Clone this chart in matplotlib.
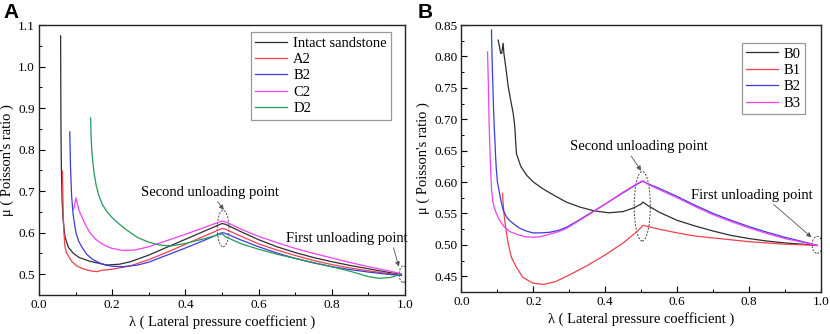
import numpy as np
import matplotlib
matplotlib.use("Agg")
import matplotlib.pyplot as plt
from matplotlib.patches import Ellipse
from matplotlib.ticker import MultipleLocator, FormatStrFormatter

plt.rcParams["font.family"] = ["Liberation Serif", "DejaVu Serif"]
plt.rcParams["font.size"] = 9

# ---- panel A : different joint sets, lambda vs Poisson's ratio ----
intact_x = [0.059, 0.0595, 0.060, 0.061, 0.063, 0.066, 0.071, 0.080, 0.094, 0.110, 0.139, 0.185,
            0.22, 0.25, 0.30, 0.35, 0.40, 0.45, 0.50, 0.51, 0.55, 0.60, 0.65, 0.70, 0.75, 0.80,
            0.85, 0.90, 0.95, 0.99]
intact_y = [1.074, 0.95, 0.85, 0.76, 0.68, 0.63, 0.59, 0.565, 0.55, 0.54, 0.531, 0.522,
            0.524, 0.530, 0.546, 0.565, 0.584, 0.603, 0.622, 0.620, 0.603, 0.583, 0.566, 0.552,
            0.540, 0.530, 0.521, 0.513, 0.505, 0.499]

a2_x = [0.064, 0.065, 0.066, 0.068, 0.071, 0.075, 0.080, 0.090, 0.103, 0.12, 0.14, 0.158, 0.17,
        0.20, 0.25, 0.30, 0.35, 0.40, 0.45, 0.50, 0.51, 0.55, 0.60, 0.65, 0.70, 0.75, 0.80, 0.85,
        0.90, 0.95, 0.99]
a2_y = [0.748, 0.70, 0.65, 0.60, 0.565, 0.552, 0.544, 0.53, 0.52, 0.513, 0.508, 0.506, 0.509,
        0.512, 0.520, 0.535, 0.553, 0.572, 0.591, 0.610, 0.608, 0.592, 0.573, 0.558, 0.545, 0.533,
        0.523, 0.515, 0.508, 0.502, 0.498]

b2a_x = [0.084, 0.086, 0.089, 0.093, 0.098, 0.101, 0.108, 0.118, 0.13, 0.146, 0.165, 0.182, 0.20,
         0.23, 0.27, 0.30, 0.35, 0.40, 0.45, 0.50, 0.51, 0.55, 0.60, 0.65, 0.70, 0.75, 0.80, 0.85,
         0.90, 0.95, 0.99]
b2a_y = [0.843, 0.76, 0.69, 0.645, 0.615, 0.60, 0.58, 0.564, 0.548, 0.536, 0.527, 0.522, 0.519,
         0.518, 0.522, 0.529, 0.546, 0.563, 0.581, 0.600, 0.598, 0.583, 0.566, 0.551, 0.538, 0.527,
         0.518, 0.511, 0.505, 0.500, 0.497]

c2_x = [0.094, 0.097, 0.101, 0.105, 0.110, 0.117, 0.128, 0.139, 0.155, 0.170, 0.185, 0.20, 0.23,
        0.26, 0.30, 0.35, 0.40, 0.45, 0.50, 0.51, 0.55, 0.60, 0.65, 0.70, 0.75, 0.80, 0.85, 0.90,
        0.95, 0.99]
c2_y = [0.655, 0.665, 0.684, 0.668, 0.652, 0.638, 0.617, 0.60, 0.584, 0.574, 0.567, 0.562, 0.557,
        0.558, 0.566, 0.581, 0.596, 0.612, 0.628, 0.626, 0.609, 0.591, 0.576, 0.562, 0.550, 0.539,
        0.528, 0.518, 0.509, 0.501]

d2_x = [0.141, 0.142, 0.144, 0.147, 0.151, 0.156, 0.163, 0.173, 0.186, 0.20, 0.22, 0.24, 0.27,
        0.30, 0.33, 0.36, 0.40, 0.45, 0.49, 0.50, 0.51, 0.55, 0.60, 0.65, 0.70, 0.75, 0.80, 0.85,
        0.90, 0.93, 0.96, 0.99]
d2_y = [0.876, 0.84, 0.80, 0.77, 0.74, 0.715, 0.69, 0.668, 0.65, 0.636, 0.62, 0.606, 0.588,
        0.577, 0.570, 0.568, 0.574, 0.585, 0.595, 0.597, 0.590, 0.574, 0.560, 0.548, 0.538, 0.528,
        0.518, 0.507, 0.494, 0.490, 0.492, 0.500]

# ---- panel B : B-series specimens ----
b0_x = [0.102, 0.106, 0.109, 0.112, 0.116, 0.118, 0.124, 0.130, 0.137, 0.144, 0.148, 0.153,
        0.165, 0.181, 0.20, 0.227, 0.26, 0.292, 0.33, 0.37, 0.41, 0.45, 0.48, 0.50, 0.505, 0.52,
        0.55, 0.60, 0.65, 0.70, 0.75, 0.80, 0.85, 0.90, 0.95, 0.99]
b0_y = [0.826, 0.815, 0.805, 0.805, 0.821, 0.805, 0.78, 0.752, 0.73, 0.709, 0.69, 0.645,
        0.625, 0.611, 0.600, 0.589, 0.578, 0.568, 0.560, 0.554, 0.551, 0.553, 0.559, 0.565, 0.568,
        0.562, 0.552, 0.539, 0.530, 0.522, 0.515, 0.510, 0.506, 0.503, 0.501, 0.499]

b1_x = [0.114, 0.116, 0.120, 0.125, 0.130, 0.139, 0.153, 0.171, 0.199, 0.227, 0.26, 0.30, 0.35,
        0.40, 0.45, 0.49, 0.50, 0.505, 0.55, 0.60, 0.65, 0.70, 0.75, 0.80, 0.85, 0.90, 0.95, 0.99]
b1_y = [0.582, 0.565, 0.54, 0.52, 0.502, 0.48, 0.464, 0.448, 0.439, 0.437, 0.441, 0.452, 0.467,
        0.484, 0.503, 0.522, 0.528, 0.531, 0.525, 0.519, 0.514, 0.511, 0.508, 0.505, 0.503, 0.501,
        0.500, 0.499]

b2_x = [0.0835, 0.085, 0.087, 0.089, 0.091, 0.093, 0.095, 0.097, 0.10, 0.105, 0.11, 0.116, 0.125,
        0.135, 0.144, 0.16, 0.18, 0.199, 0.22, 0.246, 0.27, 0.292, 0.32, 0.357, 0.40, 0.45, 0.49,
        0.50, 0.505, 0.52, 0.55, 0.60, 0.65, 0.70, 0.75, 0.80, 0.85, 0.90, 0.95, 0.99]
b2_y = [0.842, 0.80, 0.76, 0.72, 0.69, 0.666, 0.64, 0.62, 0.60, 0.585, 0.57, 0.555, 0.545,
        0.538, 0.534, 0.527, 0.522, 0.519, 0.519, 0.520, 0.523, 0.528, 0.537, 0.550, 0.565, 0.583,
        0.597, 0.600, 0.601, 0.597, 0.590, 0.577, 0.563, 0.550, 0.539, 0.529, 0.520, 0.512, 0.505,
        0.499]

b3_x = [0.0725, 0.075, 0.077, 0.079, 0.081, 0.0835, 0.087, 0.091, 0.097, 0.105, 0.12, 0.135,
        0.153, 0.175, 0.199, 0.22, 0.246, 0.27, 0.292, 0.32, 0.357, 0.40, 0.45, 0.49, 0.50, 0.505,
        0.52, 0.55, 0.60, 0.65, 0.70, 0.75, 0.80, 0.85, 0.90, 0.95, 0.99]
b3_y = [0.807, 0.75, 0.69, 0.655, 0.62, 0.59, 0.57, 0.56, 0.55, 0.54, 0.528, 0.521, 0.517,
        0.513, 0.512, 0.513, 0.517, 0.521, 0.526, 0.536, 0.549, 0.565, 0.584, 0.598, 0.601, 0.602,
        0.596, 0.588, 0.575, 0.561, 0.548, 0.537, 0.527, 0.518, 0.510, 0.504, 0.499]

C_BLACK = "#2e2e2e"
C_RED = "#f0404e"
C_BLUE = "#3c3cdc"
C_PINK = "#f040f0"
C_GREEN = "#239a5a"

fig = plt.figure(figsize=(8.3, 3.34), dpi=100)
axA = fig.add_axes([0.047, 0.117, 0.441, 0.808])
axB = fig.add_axes([0.556, 0.126, 0.433, 0.799])

lw = 0.9
axA.plot(intact_x, intact_y, color=C_BLACK, lw=lw, label="Intact sandstone")
axA.plot(a2_x, a2_y, color=C_RED, lw=lw, label="A2")
axA.plot(b2a_x, b2a_y, color=C_BLUE, lw=lw, label="B2")
axA.plot(c2_x, c2_y, color=C_PINK, lw=lw, label="C2")
axA.plot(d2_x, d2_y, color=C_GREEN, lw=lw, label="D2")

axB.plot(b0_x, b0_y, color=C_BLACK, lw=lw, label="B0")
axB.plot(b1_x, b1_y, color=C_RED, lw=lw, label="B1")
axB.plot(b2_x, b2_y, color=C_BLUE, lw=lw, label="B2")
axB.plot(b3_x, b3_y, color=C_PINK, lw=lw, label="B3")

axA.set_xlim(0, 1.0)
axA.set_ylim(0.45, 1.1)
axA.yaxis.set_major_locator(MultipleLocator(0.1))
axA.yaxis.set_minor_locator(MultipleLocator(0.05))
axA.yaxis.set_major_formatter(FormatStrFormatter("%.1f"))

axB.set_xlim(0, 1.0)
axB.set_ylim(0.425, 0.85)
axB.yaxis.set_major_locator(MultipleLocator(0.05))
axB.yaxis.set_minor_locator(MultipleLocator(0.025))
axB.yaxis.set_major_formatter(FormatStrFormatter("%.2f"))

for ax in (axA, axB):
    ax.xaxis.set_major_locator(MultipleLocator(0.2))
    ax.xaxis.set_minor_locator(MultipleLocator(0.1))
    ax.xaxis.set_major_formatter(FormatStrFormatter("%.1f"))
    ax.tick_params(which="major", direction="in", length=4, width=0.8, labelsize=9.5, pad=3)
    ax.tick_params(which="minor", direction="in", length=2.2, width=0.7)
    for s in ax.spines.values():
        s.set_linewidth(1.0)
        s.set_color("#222222")
    ax.set_xlabel("λ ( Lateral pressure coefficient )", fontsize=10.5, labelpad=3)
    ax.set_ylabel("μ ( Poisson's ratio )", fontsize=10.5, labelpad=3)

legkw = dict(loc="upper right", fontsize=10.5, fancybox=False, edgecolor="#999999",
             framealpha=1, handlelength=2.2, handletextpad=0.4, labelspacing=0.22,
             borderpad=0.3, borderaxespad=0)
legA = axA.legend(bbox_to_anchor=(0.962, 0.974), **legkw)
legB = axB.legend(bbox_to_anchor=(0.957, 0.933), **legkw)
for leg in (legA, legB):
    leg.get_frame().set_linewidth(0.9)

ell_kw = dict(fill=False, ls=(0, (2, 1.5)), lw=0.7, ec="#444444")
arr_kw = dict(arrowstyle="-|>", color="#555555", lw=0.6, mutation_scale=7, shrinkA=0, shrinkB=0)

axA.add_patch(Ellipse((0.503, 0.61), 0.032, 0.088, **ell_kw))
axA.add_patch(Ellipse((0.995, 0.500), 0.022, 0.04, **ell_kw))
axA.annotate("Second unloading point", xy=(0.505, 0.655), xytext=(0.468, 0.697),
             ha="center", va="center", fontsize=10.5, arrowprops=arr_kw)
axA.annotate("First unloading point", xy=(0.983, 0.518), xytext=(0.84, 0.586),
             ha="center", va="center", fontsize=10.5,
             arrowprops=dict(arr_kw, relpos=(0.88, 0.0)))

axB.add_patch(Ellipse((0.503, 0.5615), 0.045, 0.111, **ell_kw))
axB.add_patch(Ellipse((0.99, 0.50), 0.029, 0.027, **ell_kw))
axB.annotate("Second unloading point", xy=(0.50, 0.618), xytext=(0.494, 0.656),
             ha="center", va="center", fontsize=10.5,
             arrowprops=dict(arr_kw, relpos=(0.43, 0.0)))
axB.annotate("First unloading point", xy=(0.974, 0.512), xytext=(0.809, 0.579),
             ha="center", va="center", fontsize=10.5,
             arrowprops=dict(arr_kw, relpos=(0.65, 0.0)))

fig.text(0.004, 0.99, "A", fontsize=15, fontweight="bold", family="Liberation Sans", va="top")
fig.text(0.503, 0.99, "B", fontsize=15, fontweight="bold", family="Liberation Sans", va="top")

fig.savefig("out.png", dpi=100)
